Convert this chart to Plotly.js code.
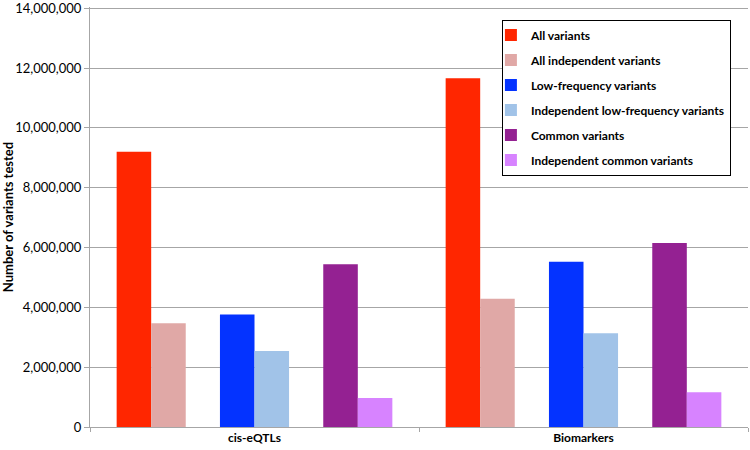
<!DOCTYPE html>
<html><head><meta charset="utf-8">
<script src="https://cdn.plot.ly/plotly-3.0.1.min.js"></script>
<style>html,body{margin:0;padding:0;background:#fff}#chart{width:750px;height:450px}</style>
</head><body><div id="chart"></div>
<script>
const categories = ["cis-eQTLs", "Biomarkers"];
const seriesNames = ["All variants", "All independent variants", "Low-frequency variants",
  "Independent low-frequency variants", "Common variants", "Independent common variants"];
const allVariants = [9200000, 11660000];
const allIndependent = [3470000, 4290000];
const lowFreq = [3760000, 5520000];
const indepLowFreq = [2540000, 3130000];
const common = [5440000, 6150000];
const indepCommon = [970000, 1160000];
const yTicks = [0, 2000000, 4000000, 6000000, 8000000, 10000000, 12000000, 14000000];

const seriesValues = [allVariants, allIndependent, lowFreq, indepLowFreq, common, indepCommon];
const colors = ["#ff2600", "#e0a8a6", "#0433ff", "#a1c3e8", "#942192", "#d783ff"];
const offsets = [-0.419, -0.314, -0.105, 0.0, 0.209, 0.314];
const barW = 0.105;

const traces = seriesValues.map((vals, i) => ({
  type: "bar", x: categories, y: vals, name: seriesNames[i],
  marker: {color: colors[i], line: {width: 0}},
  offset: offsets[i], width: barW,
  legendgroup: "g" + i, hoverinfo: "y"
}));

const layout = {
  width: 750, height: 450,
  margin: {l: 90, r: 2, t: 7, b: 23},
  paper_bgcolor: "#fff", plot_bgcolor: "#fff",
  font: {family: "Lato, 'Open Sans', sans-serif", size: 13, color: "#000"},
  showlegend: true,
  legend: {
    x: 0.626, y: 0.97, xanchor: "left", yanchor: "top",
    bgcolor: "#fff", bordercolor: "#000", borderwidth: 1,
    font: {size: 12, color: "#000", weight: "bold"},
    tracegroupgap: 6, itemwidth: 30, indentation: -12
  },
  xaxis: {
    type: "category", range: [-0.5, 1.5],
    showgrid: false, showline: true, linecolor: "#a6a6a6", linewidth: 1,
    ticks: "outside", tickson: "boundaries", ticklen: 4, tickcolor: "#a6a6a6",
    tickfont: {size: 12, weight: "bold"}, fixedrange: true
  },
  yaxis: {
    range: [0, 14040000], tickvals: yTicks,
    tickformat: ",d", showgrid: true, gridcolor: "#a6a6a6", gridwidth: 1,
    showline: true, linecolor: "#a6a6a6", linewidth: 1,
    ticks: "outside", ticklen: 5, tickcolor: "#a6a6a6",
    tickfont: {size: 13}, zeroline: false, ticklabeloverflow: "allow",
    title: {text: "Number of variants tested", font: {size: 13, weight: "bold"}, standoff: 8}
  }
};
Plotly.newPlot("chart", traces, layout, {staticPlot: true});
</script></body></html>
